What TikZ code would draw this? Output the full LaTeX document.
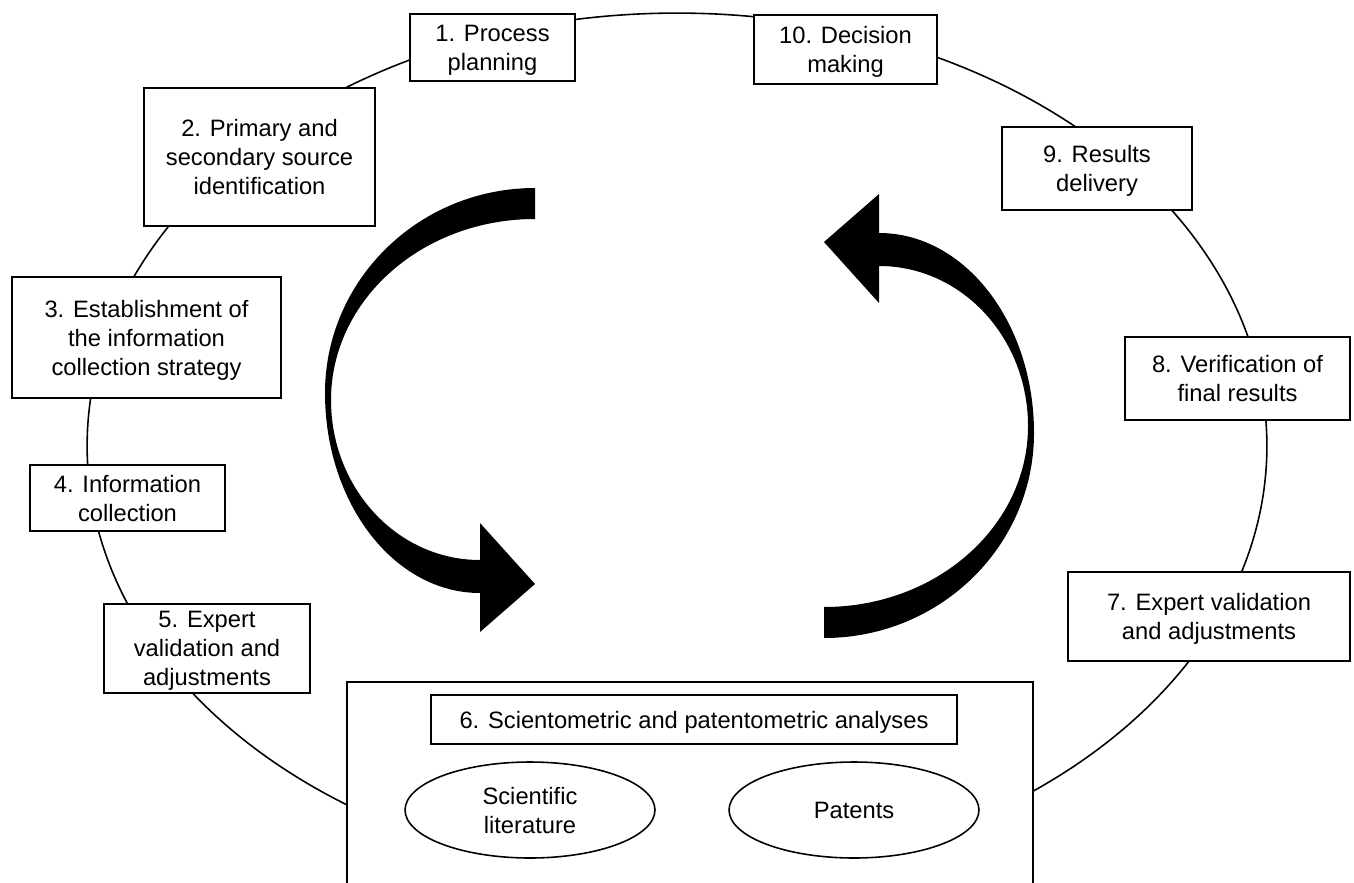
\documentclass[tikz,border=0pt]{standalone}
\usepackage{fontspec}
\setmainfont{Liberation Sans}
\usetikzlibrary{shapes.geometric}

\tikzset{
  stage/.style={draw, line width=1.1pt, fill=white, align=center, inner sep=0pt,
    text depth=0pt, font=\fontsize{13.5}{16.5}\selectfont},
  source/.style={stage, ellipse, line width=0.9pt},
}

\begin{document}
\begin{tikzpicture}[x=0.02cm, y=-0.02cm]
	\useasboundingbox (0,0) rectangle (1354,882);
	\clip (0,0) rectangle (1354,882);
	% the cycle behind the stages
	\draw [line width=0.9pt] (677,446) ellipse [x radius=11.8cm, y radius=8.66cm];
	% two curved arrows, the second one turned half round
	\foreach \a in {0,180}
	\fill [rotate around={\a:(679.5,413)}]
		(535,188) .. controls (419,188) and (325,280) .. (325,393)
		.. controls (325,503) and (394,593) .. (480,593)
		-- (480,632) -- (535,584) -- (480,523) -- (480,560)
		.. controls (397,560) and (331,488) .. (331,400)
		.. controls (331,300) and (422,219) .. (535,219) -- cycle;
	% stages
	\node [stage, minimum width=3.30cm, minimum height=1.34cm] (s1) at (492.5,47.5) {1. Process\\planning};
	\node [stage, minimum width=4.62cm, minimum height=2.76cm] (s2) at (259.5,157) {2. Primary and\\secondary source\\identification};
	\node [stage, minimum width=5.38cm, minimum height=2.42cm] (s3) at (146.5,337.5) {3. Establishment of\\the information\\collection strategy};
	\node [stage, minimum width=3.90cm, minimum height=1.32cm] (s4) at (127.5,498) {4. Information\\collection};
	\node [stage, minimum width=4.12cm, minimum height=1.78cm] (s5) at (207,648.5) {5. Expert\\validation and\\adjustments};
	\node [stage, line width=0.9pt, minimum width=13.72cm, minimum height=4.36cm] (analysis) at (690,791) {};
	\node [stage, line width=0.9pt, minimum width=10.52cm, minimum height=0.98cm] (s6) at (694,719.5) {6. Scientometric and patentometric analyses};
	\node [source, minimum width=5cm, minimum height=1.92cm] (lit) at (530,810) {Scientific\\literature};
	\node [source, minimum width=5cm, minimum height=1.92cm] (pat) at (854,810) {Patents};
	\node [stage, minimum width=5.64cm, minimum height=1.78cm] (s7) at (1209,616.5) {7. Expert validation\\and adjustments};
	\node [stage, minimum width=4.50cm, minimum height=1.66cm] (s8) at (1237.5,378.5) {8. Verification of\\final results};
	\node [stage, minimum width=3.80cm, minimum height=1.66cm] (s9) at (1097,168.5) {9. Results\\delivery};
	\node [stage, minimum width=3.66cm, minimum height=1.38cm] (s10) at (845.5,49.5) {10. Decision\\making};
\end{tikzpicture}
\end{document}
